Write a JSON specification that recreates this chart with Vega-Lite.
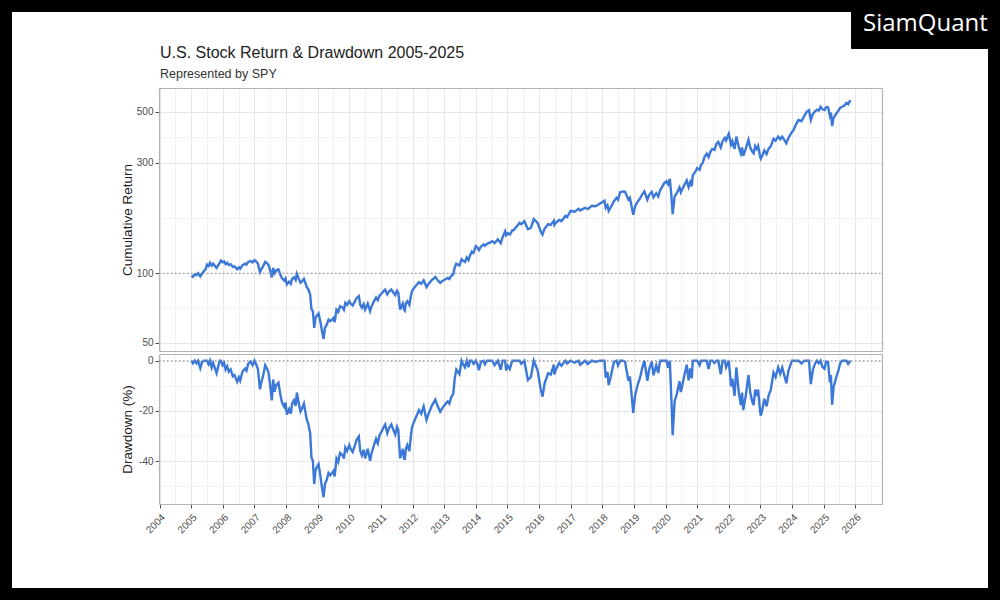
{
  "$schema": "https://vega.github.io/schema/vega-lite/v6.json",
  "width": 1000,
  "height": 600,
  "autosize": {"type": "none"},
  "padding": 0,
  "background": "black",
  "title": {
    "text": "U.S. Stock Return & Drawdown 2005-2025",
    "subtitle": "Represented by SPY",
    "anchor": "start",
    "frame": "group",
    "dx": 160,
    "offset": -81,
    "fontSize": 16,
    "fontWeight": "normal",
    "color": "#222222",
    "subtitleFontSize": 12.5,
    "subtitleColor": "#333333",
    "subtitlePadding": 7
  },
  "config": {
    "font": "Liberation Sans",
    "view": {"fill": "white", "stroke": "black", "strokeWidth": 24},
    "axis": {
      "labelColor": "#4d4d4d",
      "labelFontSize": 10,
      "tickColor": "#4d4d4d",
      "tickSize": 4,
      "labelPadding": 2,
      "domainColor": "#b3b3b3",
      "domainWidth": 1.2,
      "gridColor": "#e6e6e6",
      "gridWidth": 1,
      "titleFontSize": 13.5,
      "titleFontWeight": "normal",
      "titleColor": "#222222",
      "labelOverlap": false,
      "labelFlush": false
    }
  },
  "data": {
    "values": [
      {"date": "2005-01-03", "ret": 97.5, "dd": 0},
      {"date": "2005-01-20", "ret": 96.5, "dd": -1.0},
      {"date": "2005-02-10", "ret": 99, "dd": 0},
      {"date": "2005-03-01", "ret": 98, "dd": -1.0},
      {"date": "2005-03-20", "ret": 100, "dd": 0},
      {"date": "2005-04-15", "ret": 97, "dd": -3.0},
      {"date": "2005-05-05", "ret": 99.5, "dd": -0.5},
      {"date": "2005-05-25", "ret": 102, "dd": 0},
      {"date": "2005-06-15", "ret": 104, "dd": 0},
      {"date": "2005-07-01", "ret": 109, "dd": 0},
      {"date": "2005-07-20", "ret": 107.5, "dd": -1.4},
      {"date": "2005-08-05", "ret": 111, "dd": 0},
      {"date": "2005-08-25", "ret": 108, "dd": -2.7},
      {"date": "2005-09-10", "ret": 110, "dd": -0.9},
      {"date": "2005-10-20", "ret": 105.5, "dd": -5.0},
      {"date": "2005-11-05", "ret": 108, "dd": -2.7},
      {"date": "2005-11-25", "ret": 111, "dd": 0},
      {"date": "2005-12-10", "ret": 113.5, "dd": 0},
      {"date": "2005-12-28", "ret": 111.5, "dd": -1.8},
      {"date": "2006-01-15", "ret": 112.5, "dd": -0.9},
      {"date": "2006-02-01", "ret": 109.5, "dd": -3.5},
      {"date": "2006-02-20", "ret": 111, "dd": -2.2},
      {"date": "2006-03-10", "ret": 108.5, "dd": -4.4},
      {"date": "2006-04-01", "ret": 109.5, "dd": -3.5},
      {"date": "2006-04-25", "ret": 106.5, "dd": -6.2},
      {"date": "2006-05-15", "ret": 107, "dd": -5.7},
      {"date": "2006-06-15", "ret": 104, "dd": -8.4},
      {"date": "2006-07-05", "ret": 106, "dd": -6.6},
      {"date": "2006-07-20", "ret": 104.5, "dd": -7.9},
      {"date": "2006-08-15", "ret": 108.5, "dd": -4.4},
      {"date": "2006-09-15", "ret": 110, "dd": -3.1},
      {"date": "2006-10-01", "ret": 109, "dd": -4.0},
      {"date": "2006-10-20", "ret": 112, "dd": -1.3},
      {"date": "2006-11-15", "ret": 113, "dd": -0.4},
      {"date": "2006-12-10", "ret": 111.5, "dd": -1.8},
      {"date": "2007-01-01", "ret": 114, "dd": 0},
      {"date": "2007-01-25", "ret": 112, "dd": -1.8},
      {"date": "2007-02-10", "ret": 110, "dd": -3.5},
      {"date": "2007-03-05", "ret": 101, "dd": -11.4},
      {"date": "2007-03-20", "ret": 104, "dd": -8.8},
      {"date": "2007-04-10", "ret": 107, "dd": -6.1},
      {"date": "2007-05-05", "ret": 112, "dd": -1.8},
      {"date": "2007-05-25", "ret": 110.5, "dd": -3.1},
      {"date": "2007-06-10", "ret": 109, "dd": -4.4},
      {"date": "2007-06-28", "ret": 104, "dd": -8.8},
      {"date": "2007-07-20", "ret": 96, "dd": -15.8},
      {"date": "2007-08-05", "ret": 105.5, "dd": -7.5},
      {"date": "2007-08-20", "ret": 100, "dd": -12.3},
      {"date": "2007-09-10", "ret": 103, "dd": -9.6},
      {"date": "2007-10-05", "ret": 104, "dd": -8.8},
      {"date": "2007-10-25", "ret": 99, "dd": -13.2},
      {"date": "2007-11-15", "ret": 95, "dd": -16.7},
      {"date": "2007-12-10", "ret": 93, "dd": -18.4},
      {"date": "2007-12-25", "ret": 95, "dd": -16.7},
      {"date": "2008-01-10", "ret": 89.5, "dd": -21.5},
      {"date": "2008-02-05", "ret": 92, "dd": -19.3},
      {"date": "2008-02-25", "ret": 90, "dd": -21.1},
      {"date": "2008-03-10", "ret": 94.5, "dd": -17.1},
      {"date": "2008-04-01", "ret": 96, "dd": -15.8},
      {"date": "2008-04-20", "ret": 93.5, "dd": -18.0},
      {"date": "2008-05-05", "ret": 99.5, "dd": -12.7},
      {"date": "2008-05-25", "ret": 95, "dd": -16.7},
      {"date": "2008-06-15", "ret": 91, "dd": -20.2},
      {"date": "2008-07-05", "ret": 92.5, "dd": -18.9},
      {"date": "2008-07-25", "ret": 94.5, "dd": -17.1},
      {"date": "2008-08-10", "ret": 91, "dd": -20.2},
      {"date": "2008-08-25", "ret": 87.5, "dd": -23.2},
      {"date": "2008-09-15", "ret": 85, "dd": -25.4},
      {"date": "2008-10-05", "ret": 81, "dd": -28.9},
      {"date": "2008-10-20", "ret": 70, "dd": -38.6},
      {"date": "2008-11-05", "ret": 68.5, "dd": -39.9},
      {"date": "2008-11-21", "ret": 58, "dd": -49.1},
      {"date": "2008-12-05", "ret": 64, "dd": -43.9},
      {"date": "2008-12-20", "ret": 65.5, "dd": -42.5},
      {"date": "2009-01-10", "ret": 67, "dd": -41.2},
      {"date": "2009-01-30", "ret": 62, "dd": -45.6},
      {"date": "2009-02-20", "ret": 56, "dd": -50.9},
      {"date": "2009-03-09", "ret": 52, "dd": -54.4},
      {"date": "2009-03-25", "ret": 58, "dd": -49.1},
      {"date": "2009-04-15", "ret": 60, "dd": -47.4},
      {"date": "2009-05-05", "ret": 63, "dd": -44.7},
      {"date": "2009-05-25", "ret": 62, "dd": -45.6},
      {"date": "2009-06-15", "ret": 63, "dd": -44.7},
      {"date": "2009-07-01", "ret": 64, "dd": -43.9},
      {"date": "2009-07-15", "ret": 61.5, "dd": -46.1},
      {"date": "2009-08-05", "ret": 69.5, "dd": -39.0},
      {"date": "2009-08-25", "ret": 68, "dd": -40.4},
      {"date": "2009-09-15", "ret": 72, "dd": -36.8},
      {"date": "2009-10-15", "ret": 71, "dd": -37.7},
      {"date": "2009-10-30", "ret": 69.5, "dd": -39.0},
      {"date": "2009-11-15", "ret": 74.5, "dd": -34.6},
      {"date": "2009-12-05", "ret": 73, "dd": -36.0},
      {"date": "2009-12-31", "ret": 75.7, "dd": -33.6},
      {"date": "2010-01-15", "ret": 74, "dd": -35.1},
      {"date": "2010-02-08", "ret": 72.5, "dd": -36.4},
      {"date": "2010-03-01", "ret": 75, "dd": -34.2},
      {"date": "2010-03-25", "ret": 78, "dd": -31.6},
      {"date": "2010-04-20", "ret": 79.6, "dd": -30.2},
      {"date": "2010-05-07", "ret": 73, "dd": -36.0},
      {"date": "2010-05-25", "ret": 71, "dd": -37.7},
      {"date": "2010-06-15", "ret": 73.5, "dd": -35.5},
      {"date": "2010-07-01", "ret": 69.6, "dd": -38.9},
      {"date": "2010-07-15", "ret": 71.5, "dd": -37.3},
      {"date": "2010-08-01", "ret": 74, "dd": -35.1},
      {"date": "2010-08-28", "ret": 68.5, "dd": -39.9},
      {"date": "2010-09-15", "ret": 72, "dd": -36.8},
      {"date": "2010-10-15", "ret": 76, "dd": -33.3},
      {"date": "2010-11-05", "ret": 78.5, "dd": -31.1},
      {"date": "2010-11-25", "ret": 76.5, "dd": -32.9},
      {"date": "2010-12-15", "ret": 80, "dd": -29.8},
      {"date": "2011-01-10", "ret": 82, "dd": -28.1},
      {"date": "2011-01-30", "ret": 83.7, "dd": -26.6},
      {"date": "2011-02-18", "ret": 85, "dd": -25.4},
      {"date": "2011-03-15", "ret": 81, "dd": -28.9},
      {"date": "2011-04-05", "ret": 83.5, "dd": -26.8},
      {"date": "2011-04-30", "ret": 85, "dd": -25.4},
      {"date": "2011-05-20", "ret": 83, "dd": -27.2},
      {"date": "2011-06-15", "ret": 80.5, "dd": -29.4},
      {"date": "2011-07-05", "ret": 84, "dd": -26.3},
      {"date": "2011-07-20", "ret": 82.5, "dd": -27.6},
      {"date": "2011-08-10", "ret": 69.6, "dd": -38.9},
      {"date": "2011-08-25", "ret": 72, "dd": -36.8},
      {"date": "2011-09-10", "ret": 74, "dd": -35.1},
      {"date": "2011-09-22", "ret": 70, "dd": -38.6},
      {"date": "2011-10-03", "ret": 69, "dd": -39.5},
      {"date": "2011-10-15", "ret": 74, "dd": -35.1},
      {"date": "2011-11-01", "ret": 75.7, "dd": -33.6},
      {"date": "2011-11-25", "ret": 73, "dd": -36.0},
      {"date": "2011-12-10", "ret": 79, "dd": -30.7},
      {"date": "2011-12-25", "ret": 83.7, "dd": -26.6},
      {"date": "2012-01-20", "ret": 86.5, "dd": -24.1},
      {"date": "2012-02-20", "ret": 89.4, "dd": -21.6},
      {"date": "2012-03-15", "ret": 91.5, "dd": -19.7},
      {"date": "2012-04-10", "ret": 90, "dd": -21.1},
      {"date": "2012-05-08", "ret": 93.2, "dd": -18.2},
      {"date": "2012-05-25", "ret": 90, "dd": -21.1},
      {"date": "2012-06-10", "ret": 87.1, "dd": -23.6},
      {"date": "2012-06-30", "ret": 89.5, "dd": -21.5},
      {"date": "2012-07-15", "ret": 91, "dd": -20.2},
      {"date": "2012-08-10", "ret": 93.5, "dd": -18.0},
      {"date": "2012-09-20", "ret": 96.3, "dd": -15.5},
      {"date": "2012-10-15", "ret": 93.5, "dd": -18.0},
      {"date": "2012-11-15", "ret": 90.9, "dd": -20.3},
      {"date": "2012-12-10", "ret": 92.5, "dd": -18.9},
      {"date": "2013-01-10", "ret": 94, "dd": -17.5},
      {"date": "2013-02-10", "ret": 95.5, "dd": -16.2},
      {"date": "2013-03-01", "ret": 94.5, "dd": -17.1},
      {"date": "2013-03-20", "ret": 97.2, "dd": -14.7},
      {"date": "2013-04-15", "ret": 99, "dd": -13.2},
      {"date": "2013-05-01", "ret": 105.7, "dd": -7.3},
      {"date": "2013-05-20", "ret": 110, "dd": -3.5},
      {"date": "2013-06-25", "ret": 108, "dd": -5.3},
      {"date": "2013-07-20", "ret": 115, "dd": 0},
      {"date": "2013-08-05", "ret": 113.5, "dd": -1.3},
      {"date": "2013-08-28", "ret": 112, "dd": -2.6},
      {"date": "2013-09-18", "ret": 117, "dd": 0},
      {"date": "2013-10-08", "ret": 114, "dd": -2.6},
      {"date": "2013-10-25", "ret": 119, "dd": 0},
      {"date": "2013-11-15", "ret": 124, "dd": 0},
      {"date": "2013-12-05", "ret": 122.5, "dd": -1.2},
      {"date": "2013-12-31", "ret": 131, "dd": 0},
      {"date": "2014-01-20", "ret": 129, "dd": -1.5},
      {"date": "2014-02-05", "ret": 126, "dd": -3.8},
      {"date": "2014-03-01", "ret": 130.5, "dd": -0.4},
      {"date": "2014-04-01", "ret": 133.4, "dd": 0},
      {"date": "2014-04-15", "ret": 131.5, "dd": -1.4},
      {"date": "2014-05-10", "ret": 134, "dd": 0},
      {"date": "2014-06-15", "ret": 136, "dd": 0},
      {"date": "2014-07-10", "ret": 137.5, "dd": 0},
      {"date": "2014-08-05", "ret": 135, "dd": -1.8},
      {"date": "2014-09-12", "ret": 140, "dd": 0},
      {"date": "2014-10-15", "ret": 135, "dd": -3.6},
      {"date": "2014-11-05", "ret": 143, "dd": 0},
      {"date": "2014-12-05", "ret": 152, "dd": 0},
      {"date": "2014-12-16", "ret": 146, "dd": -3.9},
      {"date": "2015-01-05", "ret": 149, "dd": -2.0},
      {"date": "2015-01-28", "ret": 147, "dd": -3.3},
      {"date": "2015-02-25", "ret": 153, "dd": 0},
      {"date": "2015-03-15", "ret": 154, "dd": 0},
      {"date": "2015-04-10", "ret": 158, "dd": 0},
      {"date": "2015-05-20", "ret": 165, "dd": 0},
      {"date": "2015-06-10", "ret": 163, "dd": -1.2},
      {"date": "2015-07-15", "ret": 168, "dd": 0},
      {"date": "2015-08-25", "ret": 155, "dd": -7.7},
      {"date": "2015-09-29", "ret": 157, "dd": -6.5},
      {"date": "2015-11-01", "ret": 171.5, "dd": 0},
      {"date": "2015-12-15", "ret": 165, "dd": -3.8},
      {"date": "2016-01-20", "ret": 152, "dd": -11.4},
      {"date": "2016-02-10", "ret": 147, "dd": -14.3},
      {"date": "2016-03-05", "ret": 156, "dd": -9.0},
      {"date": "2016-04-15", "ret": 163, "dd": -5.0},
      {"date": "2016-05-15", "ret": 162, "dd": -5.5},
      {"date": "2016-06-20", "ret": 168.7, "dd": -1.6},
      {"date": "2016-06-27", "ret": 162, "dd": -5.5},
      {"date": "2016-07-10", "ret": 165, "dd": -3.8},
      {"date": "2016-08-20", "ret": 170, "dd": -0.9},
      {"date": "2016-09-15", "ret": 168, "dd": -2.0},
      {"date": "2016-10-30", "ret": 177, "dd": 0},
      {"date": "2016-11-20", "ret": 175, "dd": -1.1},
      {"date": "2016-12-30", "ret": 186, "dd": 0},
      {"date": "2017-02-15", "ret": 184.5, "dd": -0.8},
      {"date": "2017-04-01", "ret": 190, "dd": 0},
      {"date": "2017-04-20", "ret": 187, "dd": -1.6},
      {"date": "2017-06-15", "ret": 192, "dd": 0},
      {"date": "2017-07-15", "ret": 189.5, "dd": -1.3},
      {"date": "2017-09-01", "ret": 196, "dd": 0},
      {"date": "2017-10-15", "ret": 195, "dd": -0.5},
      {"date": "2017-12-01", "ret": 200, "dd": 0},
      {"date": "2018-01-25", "ret": 206, "dd": 0},
      {"date": "2018-02-09", "ret": 192, "dd": -6.8},
      {"date": "2018-03-01", "ret": 197, "dd": -4.4},
      {"date": "2018-03-15", "ret": 186, "dd": -9.7},
      {"date": "2018-04-05", "ret": 192, "dd": -6.8},
      {"date": "2018-05-15", "ret": 205, "dd": -0.5},
      {"date": "2018-06-15", "ret": 212, "dd": 0},
      {"date": "2018-07-01", "ret": 208, "dd": -1.9},
      {"date": "2018-07-25", "ret": 224, "dd": 0},
      {"date": "2018-08-30", "ret": 226, "dd": 0},
      {"date": "2018-09-20", "ret": 225, "dd": -0.4},
      {"date": "2018-10-29", "ret": 208, "dd": -8.0},
      {"date": "2018-11-15", "ret": 212, "dd": -6.2},
      {"date": "2018-12-24", "ret": 179, "dd": -20.8},
      {"date": "2019-01-15", "ret": 195, "dd": -13.7},
      {"date": "2019-02-15", "ret": 205, "dd": -9.3},
      {"date": "2019-03-10", "ret": 210, "dd": -7.1},
      {"date": "2019-04-05", "ret": 219, "dd": -3.1},
      {"date": "2019-05-01", "ret": 226, "dd": 0},
      {"date": "2019-06-05", "ret": 208, "dd": -8.0},
      {"date": "2019-06-25", "ret": 218, "dd": -3.5},
      {"date": "2019-07-25", "ret": 225, "dd": -0.4},
      {"date": "2019-08-15", "ret": 213, "dd": -5.8},
      {"date": "2019-09-15", "ret": 222, "dd": -1.8},
      {"date": "2019-10-08", "ret": 215, "dd": -4.9},
      {"date": "2019-10-30", "ret": 228, "dd": 0},
      {"date": "2019-12-15", "ret": 245, "dd": 0},
      {"date": "2020-01-10", "ret": 250, "dd": 0},
      {"date": "2020-01-31", "ret": 243, "dd": -2.8},
      {"date": "2020-02-19", "ret": 256, "dd": 0},
      {"date": "2020-03-09", "ret": 215, "dd": -16.0},
      {"date": "2020-03-23", "ret": 180, "dd": -29.7},
      {"date": "2020-04-15", "ret": 215, "dd": -16.0},
      {"date": "2020-05-10", "ret": 222, "dd": -13.3},
      {"date": "2020-06-10", "ret": 235, "dd": -8.2},
      {"date": "2020-06-26", "ret": 224, "dd": -12.5},
      {"date": "2020-07-15", "ret": 232, "dd": -9.4},
      {"date": "2020-08-10", "ret": 243, "dd": -5.1},
      {"date": "2020-09-02", "ret": 252, "dd": -1.6},
      {"date": "2020-09-23", "ret": 236, "dd": -7.8},
      {"date": "2020-10-12", "ret": 248, "dd": -3.1},
      {"date": "2020-10-30", "ret": 238, "dd": -7.0},
      {"date": "2020-11-10", "ret": 265, "dd": 0},
      {"date": "2020-12-10", "ret": 275, "dd": 0},
      {"date": "2020-12-31", "ret": 285, "dd": 0},
      {"date": "2021-01-28", "ret": 280, "dd": -1.8},
      {"date": "2021-02-15", "ret": 295, "dd": 0},
      {"date": "2021-03-05", "ret": 300, "dd": 0},
      {"date": "2021-03-25", "ret": 318, "dd": 0},
      {"date": "2021-04-20", "ret": 329, "dd": 0},
      {"date": "2021-05-12", "ret": 318, "dd": -3.3},
      {"date": "2021-06-01", "ret": 335, "dd": 0},
      {"date": "2021-06-25", "ret": 345, "dd": 0},
      {"date": "2021-07-20", "ret": 342, "dd": -0.9},
      {"date": "2021-08-10", "ret": 363, "dd": 0},
      {"date": "2021-09-01", "ret": 370, "dd": 0},
      {"date": "2021-09-30", "ret": 350, "dd": -5.4},
      {"date": "2021-10-20", "ret": 372, "dd": 0},
      {"date": "2021-11-15", "ret": 385, "dd": 0},
      {"date": "2021-11-30", "ret": 375, "dd": -2.6},
      {"date": "2021-12-31", "ret": 401, "dd": 0},
      {"date": "2022-01-27", "ret": 360, "dd": -10.2},
      {"date": "2022-02-10", "ret": 372, "dd": -7.2},
      {"date": "2022-03-08", "ret": 345, "dd": -14.0},
      {"date": "2022-03-29", "ret": 390, "dd": -2.7},
      {"date": "2022-04-26", "ret": 350, "dd": -12.7},
      {"date": "2022-05-20", "ret": 330, "dd": -17.7},
      {"date": "2022-06-03", "ret": 350, "dd": -12.7},
      {"date": "2022-06-16", "ret": 322, "dd": -19.7},
      {"date": "2022-07-15", "ret": 345, "dd": -14.0},
      {"date": "2022-08-16", "ret": 378, "dd": -5.7},
      {"date": "2022-09-05", "ret": 350, "dd": -12.7},
      {"date": "2022-09-30", "ret": 335, "dd": -16.5},
      {"date": "2022-10-15", "ret": 330, "dd": -17.7},
      {"date": "2022-11-01", "ret": 355, "dd": -11.5},
      {"date": "2022-11-20", "ret": 345, "dd": -14.0},
      {"date": "2022-12-05", "ret": 355, "dd": -11.5},
      {"date": "2022-12-28", "ret": 320, "dd": -20.2},
      {"date": "2023-01-05", "ret": 313, "dd": -21.9},
      {"date": "2023-01-25", "ret": 325, "dd": -19.0},
      {"date": "2023-02-15", "ret": 340, "dd": -15.2},
      {"date": "2023-03-13", "ret": 328, "dd": -18.2},
      {"date": "2023-04-05", "ret": 345, "dd": -14.0},
      {"date": "2023-05-01", "ret": 355, "dd": -11.5},
      {"date": "2023-06-01", "ret": 382, "dd": -4.7},
      {"date": "2023-06-25", "ret": 375, "dd": -6.5},
      {"date": "2023-07-25", "ret": 390, "dd": -2.7},
      {"date": "2023-08-18", "ret": 380, "dd": -5.2},
      {"date": "2023-09-10", "ret": 390, "dd": -2.7},
      {"date": "2023-10-27", "ret": 365, "dd": -9.0},
      {"date": "2023-11-20", "ret": 385, "dd": -4.0},
      {"date": "2023-12-31", "ret": 408, "dd": 0},
      {"date": "2024-01-20", "ret": 418, "dd": 0},
      {"date": "2024-02-15", "ret": 440, "dd": 0},
      {"date": "2024-03-15", "ret": 460, "dd": 0},
      {"date": "2024-04-19", "ret": 455, "dd": -1.1},
      {"date": "2024-05-20", "ret": 478, "dd": 0},
      {"date": "2024-06-20", "ret": 500, "dd": 0},
      {"date": "2024-07-15", "ret": 507, "dd": 0},
      {"date": "2024-08-05", "ret": 460, "dd": -9.3},
      {"date": "2024-08-30", "ret": 490, "dd": -3.4},
      {"date": "2024-09-20", "ret": 500, "dd": -1.4},
      {"date": "2024-10-15", "ret": 510, "dd": 0},
      {"date": "2024-11-05", "ret": 505, "dd": -1.0},
      {"date": "2024-11-25", "ret": 525, "dd": 0},
      {"date": "2024-12-18", "ret": 512, "dd": -2.5},
      {"date": "2025-01-10", "ret": 508, "dd": -3.2},
      {"date": "2025-01-28", "ret": 523, "dd": -0.4},
      {"date": "2025-02-20", "ret": 522, "dd": -0.6},
      {"date": "2025-03-13", "ret": 480, "dd": -8.6},
      {"date": "2025-03-25", "ret": 495, "dd": -5.7},
      {"date": "2025-04-08", "ret": 433, "dd": -17.5},
      {"date": "2025-04-25", "ret": 470, "dd": -10.5},
      {"date": "2025-05-25", "ret": 490, "dd": -6.7},
      {"date": "2025-06-20", "ret": 505, "dd": -3.8},
      {"date": "2025-07-10", "ret": 520, "dd": -1.0},
      {"date": "2025-08-01", "ret": 525, "dd": 0},
      {"date": "2025-08-25", "ret": 530, "dd": 0},
      {"date": "2025-09-20", "ret": 545, "dd": 0},
      {"date": "2025-10-10", "ret": 538, "dd": -1.3},
      {"date": "2025-11-05", "ret": 561, "dd": 0}
    ]
  },
  "layer": [
    {
      "layer": [
        {
          "mark": {"type": "line", "strokeWidth": 2.4},
          "encoding": {
            "x": {
              "field": "date",
              "type": "temporal",
              "scale": {
                "domain": [{"year": 2003, "month": 12, "date": 25}, {"year": 2026, "month": 11, "date": 5}],
                "range": [159, 882],
                "nice": false
              },
              "axis": {
                "orient": "top",
                "offset": -88,
                "title": null,
                "labels": false,
                "ticks": false,
                "domain": true,
                "grid": true,
                "tickCount": {"interval": "month", "step": 6},
                "gridColor": {"condition": {"test": "month(datum.value) == 6", "value": "#f2f2f2"}, "value": "#e6e6e6"}
              }
            },
            "y": {
              "field": "ret",
              "type": "quantitative",
              "scale": {"type": "log", "domain": [46.1, 633], "range": [351, 88], "nice": false},
              "axis": {
                "orient": "left",
                "offset": -159,
                "values": [50, 70.71, 100, 173.21, 300, 387.3, 500],
                "labelExpr": "indexof([50,100,300,500], datum.value) >= 0 ? '' + datum.value : ''",
                "tickOpacity": {"condition": {"test": "indexof([50,100,300,500], datum.value) < 0", "value": 0}, "value": 1},
                "gridColor": {"condition": {"test": "indexof([50,100,300,500], datum.value) < 0", "value": "#f2f2f2"}, "value": "#e6e6e6"},
                "domain": true,
                "grid": true,
                "title": "Cumulative Return",
                "titleX": -28,
                "titleBaseline": "alphabetic"
              }
            },
            "color": {
              "datum": "SPY",
              "type": "nominal",
              "scale": {"range": ["#3b78d8"]},
              "legend": {
                "orient": "top-right",
                "offset": 0,
                "title": null,
                "fillColor": "black",
                "strokeColor": "black",
                "padding": 12,
                "cornerRadius": 0,
                "symbolType": "circle",
                "symbolSize": 0,
                "symbolOpacity": 0,
                "symbolStrokeWidth": 0,
                "labelOffset": -24,
                "labelExpr": "'SiamQuant'",
                "labelColor": "white",
                "labelFont": "Open Sans",
                "labelFontSize": 24,
                "labelLimit": 300
              }
            }
          }
        },
        {
          "data": {"values": [{}]},
          "mark": {"type": "rule", "strokeDash": [1.5, 2.5], "color": "#8c8c8c", "strokeWidth": 1.1},
          "encoding": {
            "x": {
              "datum": {"year": 2003, "month": 12, "date": 25},
              "type": "temporal",
              "axis": {"orient": "bottom", "offset": -249, "title": null, "labels": false, "ticks": false, "grid": false, "domain": true}
            },
            "x2": {"datum": {"year": 2026, "month": 11, "date": 5}},
            "y": {
              "datum": 100,
              "type": "quantitative",
              "axis": {"orient": "right", "offset": -118, "title": null, "labels": false, "ticks": false, "grid": false, "domain": true}
            }
          }
        }
      ],
      "resolve": {"axis": {"x": "independent", "y": "independent"}}
    },
    {
      "layer": [
        {
          "mark": {"type": "line", "strokeWidth": 2.4, "color": "#3b78d8"},
          "encoding": {
            "x": {
              "field": "date",
              "type": "temporal",
              "axis": {
                "orient": "top",
                "offset": -354,
                "title": null,
                "labels": false,
                "ticks": false,
                "domain": true,
                "grid": true,
                "tickCount": {"interval": "month", "step": 6},
                "gridColor": {"condition": {"test": "month(datum.value) == 6", "value": "#f2f2f2"}, "value": "#e6e6e6"}
              }
            },
            "y": {
              "field": "dd",
              "type": "quantitative",
              "scale": {"domain": [-57.1, 2.67], "range": [504, 354], "nice": false, "zero": false},
              "axis": {
                "orient": "left",
                "offset": -159,
                "values": [-50, -40, -30, -20, -10, 0],
                "labelExpr": "datum.value % 20 == 0 ? '' + datum.value : ''",
                "tickOpacity": {"condition": {"test": "datum.value % 20 != 0", "value": 0}, "value": 1},
                "gridColor": {"condition": {"test": "datum.value % 20 != 0", "value": "#f2f2f2"}, "value": "#e6e6e6"},
                "domain": true,
                "grid": true,
                "title": "Drawdown (%)",
                "titleX": -28,
                "titleBaseline": "alphabetic"
              }
            }
          }
        },
        {
          "data": {"values": [{}]},
          "mark": {"type": "rule", "strokeDash": [1.5, 2.5], "color": "#8c8c8c", "strokeWidth": 1.1},
          "encoding": {
            "x": {
              "datum": {"year": 2003, "month": 12, "date": 25},
              "type": "temporal",
              "axis": {
                "orient": "bottom",
                "offset": -96,
                "title": null,
                "labels": true,
                "ticks": true,
                "grid": false,
                "domain": true,
                "tickCount": {"interval": "year", "step": 1},
                "format": "%Y",
                "labelAngle": -45,
                "labelAlign": "right",
                "labelBaseline": "top",
                "labelPadding": 4
              }
            },
            "x2": {"datum": {"year": 2026, "month": 11, "date": 5}},
            "y": {
              "datum": 0,
              "type": "quantitative",
              "axis": {"orient": "right", "offset": -118, "title": null, "labels": false, "ticks": false, "grid": false, "domain": true}
            }
          }
        }
      ],
      "resolve": {"axis": {"x": "independent", "y": "independent"}}
    }
  ],
  "resolve": {"scale": {"y": "independent"}, "axis": {"x": "independent", "y": "independent"}}
}
